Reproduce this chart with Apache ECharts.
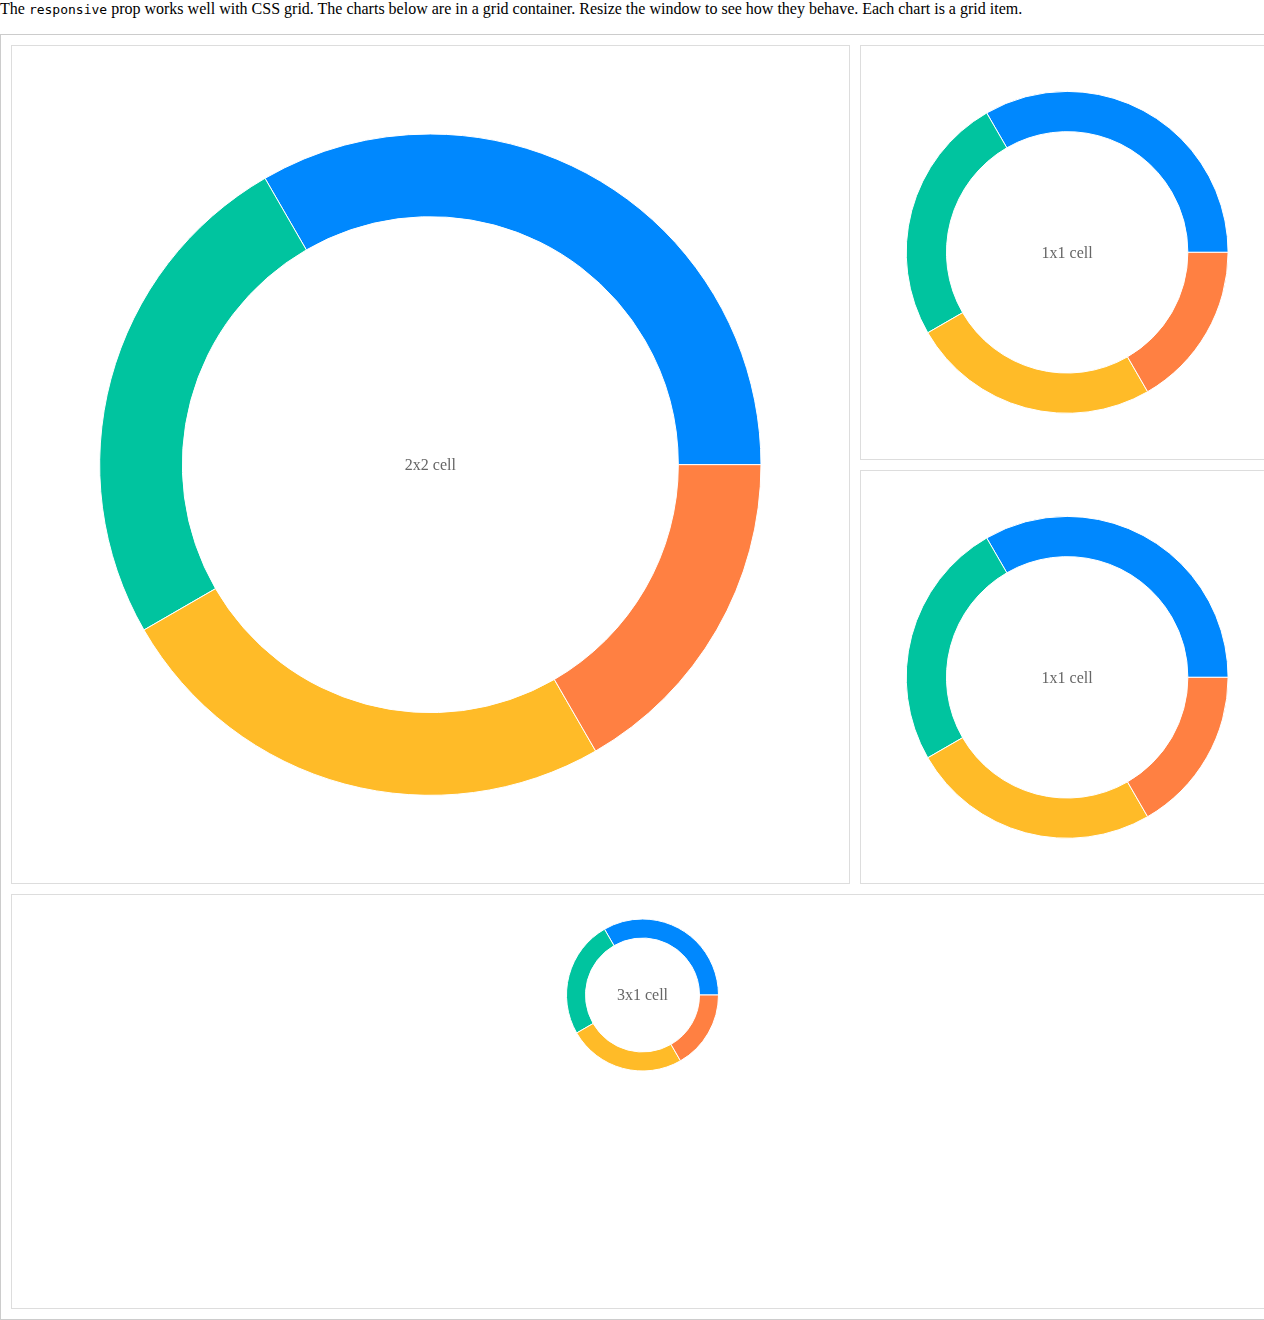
<!DOCTYPE html>
<html>
<head>
<meta charset="utf-8">
<script src="https://cdn.jsdelivr.net/npm/echarts@6/dist/echarts.min.js"></script>
<style>
  html, body { margin: 0; padding: 0; background: #fff; overflow: hidden; }
  body { font-family: "Liberation Serif", "Times New Roman", serif; font-size: 16px; color: #000; }
  p { margin: 0 0 16px 0; line-height: normal; white-space: nowrap; }
  code { font-family: "DejaVu Sans Mono", monospace; font-size: 13px; }
  .grid {
    display: grid;
    grid-template-columns: repeat(3, 414.333px);
    grid-auto-rows: 414.667px;
    gap: 10px;
    padding: 10px;
    border: 1px solid #ccc;
    width: max-content;
  }
  .cell { border: 1px solid #ddd; box-sizing: border-box; position: relative; }
  .c22 { grid-column: span 2; grid-row: span 2; }
  .c31 { grid-column: span 3; }
  .chart { width: 100%; height: 100%; }
  .c31 .chart { height: 200px; }
</style>
</head>
<body>
<p>The <code>responsive</code> prop works well with CSS grid. The charts below are in a grid container. Resize the window to see how they behave. Each chart is a grid item.</p>
<div class="grid">
  <div class="cell c22"><div class="chart" id="ch1"></div></div>
  <div class="cell"><div class="chart" id="ch2"></div></div>
  <div class="cell"><div class="chart" id="ch3"></div></div>
  <div class="cell c31"><div class="chart" id="ch4"></div></div>
</div>
<script>
const categories = ['Group A', 'Group B', 'Group C', 'Group D'];
const values = [400, 300, 300, 200];
const colors = ['#0088FE', '#00C49F', '#FFBB28', '#FF8042'];
const cellLabels = ['2x2 cell', '1x1 cell', '1x1 cell', '3x1 cell'];
const chartIds = ['ch1', 'ch2', 'ch3', 'ch4'];

chartIds.forEach(function (id, i) {
  const el = document.getElementById(id);
  const rect = el.getBoundingClientRect();
  const w = rect.width, h = rect.height;
  const maxR = (Math.min(w, h) - 10) / 2;
  const chart = echarts.init(el, null, { renderer: 'canvas' });
  chart.setOption({
    animation: false,
    graphic: [{
      type: 'text',
      x: w / 2,
      y: h / 2 + 1,
      style: {
        text: cellLabels[i],
        font: '16px "Liberation Serif", serif',
        fill: '#666',
        align: 'center',
        verticalAlign: 'middle'
      },
      z: 10
    }],
    series: [{
      type: 'pie',
      center: [w / 2, h / 2],
      radius: [maxR * 0.6, maxR * 0.8],
      startAngle: 0,
      clockwise: false,
      label: { show: false },
      labelLine: { show: false },
      emphasis: { disabled: true },
      itemStyle: { borderColor: '#fff', borderWidth: 1 },
      data: categories.map(function (c, k) {
        return { name: c, value: values[k], itemStyle: { color: colors[k] } };
      })
    }]
  });
});
</script>
</body>
</html>
